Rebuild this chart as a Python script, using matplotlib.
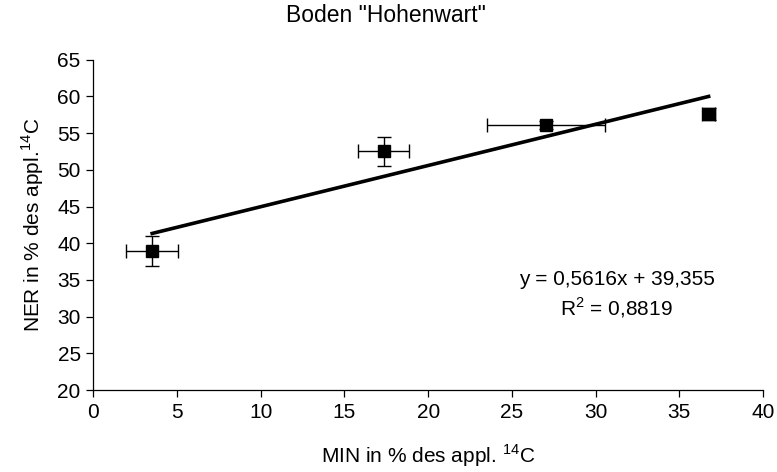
import matplotlib
matplotlib.use('Agg')
import matplotlib.pyplot as plt
import numpy as np

# MIN vs NER, soil "Hohenwart"
min_pct = [3.52, 17.36, 27.05, 36.75]
min_err = [1.55, 1.52, 3.52, 0.4]
ner_pct = [39.0, 52.5, 56.1, 57.6]
ner_err = [2.05, 2.0, 0.5, 0.8]

# linear trendline as reported
slope = 0.5616
intercept = 39.355
r_squared = 0.8819

x_ticks = [0, 5, 10, 15, 20, 25, 30, 35, 40]
y_ticks = [20, 25, 30, 35, 40, 45, 50, 55, 60, 65]

plt.rcParams['font.family'] = ['Liberation Sans', 'DejaVu Sans']
plt.rcParams['font.size'] = 15
plt.rcParams['mathtext.fontset'] = 'custom'
plt.rcParams['mathtext.rm'] = 'Liberation Sans'

fig = plt.figure(figsize=(7.77, 4.72), dpi=100)
ax = fig.add_axes([0.120, 0.1737, 0.862, 0.6998])

ax.errorbar(min_pct, ner_pct, xerr=min_err, yerr=ner_err, fmt='s',
            color='black', ms=8.5, elinewidth=1, capsize=5.2, capthick=1,
            zorder=3)

xs = np.array([min(min_pct), max(min_pct)])
ax.plot(xs, slope * xs + intercept, color='black', lw=2.6, zorder=2)

ax.text(31.25, 35.0, 'y = 0,5616x + 39,355', ha='center', va='center')
ax.text(31.25, 31.2, 'R$^\\mathrm{2}$ = 0,8819', ha='center', va='center')

ax.set_xlim(0, 40)
ax.set_ylim(20, 65)
ax.set_xticks(x_ticks)
ax.set_yticks(y_ticks)
ax.spines['top'].set_visible(False)
ax.spines['right'].set_visible(False)
for s in ('left', 'bottom'):
    ax.spines[s].set_linewidth(0.9)
ax.tick_params(direction='out', length=5, width=0.9, pad=4)

ax.set_xlabel('MIN in % des appl. $^\\mathrm{14}$C', labelpad=15)
ax.set_ylabel('NER in % des appl.$^\\mathrm{14}$C', labelpad=8)
fig.text(0.497, 1 - 15 / 472, 'Boden "Hohenwart"', ha='center', va='center',
         fontsize=16.5)

fig.savefig('out.png', dpi=100)
